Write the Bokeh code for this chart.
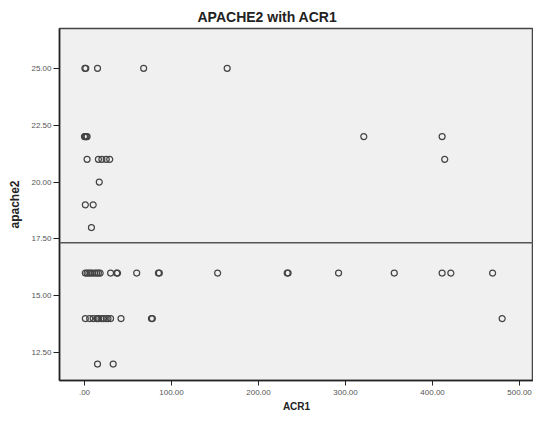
from bokeh.plotting import figure
from bokeh.models import FixedTicker, Span, ColumnDataSource
from bokeh.embed import file_html
from bokeh.resources import INLINE

# Data (ACR1 vs apache2)
acr1_25 = [0.5, 1.5, 15, 68, 164]
acr1_22 = [0, 1, 2, 3, 321, 411]
acr1_21 = [3, 16, 20, 25, 29, 414]
acr1_20 = [17]
acr1_19 = [1, 10]
acr1_18 = [8]
acr1_16 = [1, 3, 5, 7, 9, 12, 14, 16, 18, 30, 37, 38, 60, 85, 86, 153, 233, 234, 292, 356, 411, 421, 469]
acr1_14 = [1, 6, 10, 14, 15, 16, 19, 22, 25, 27, 30, 42, 77, 78, 480]
acr1_12 = [15, 33]
groups = [(25, acr1_25), (22, acr1_22), (21, acr1_21), (20, acr1_20), (19, acr1_19),
          (18, acr1_18), (16, acr1_16), (14, acr1_14), (12, acr1_12)]
ref_line = 17.33

x_ticks = [0, 100, 200, 300, 400, 500]
x_tick_labels = [".00", "100.00", "200.00", "300.00", "400.00", "500.00"]
y_ticks = [12.5, 15, 17.5, 20, 22.5, 25]
y_tick_labels = ["12.50", "15.00", "17.50", "20.00", "22.50", "25.00"]

xs, ys = [], []
for yv, xl in groups:
    for xv in xl:
        xs.append(xv)
        ys.append(yv)
src = ColumnDataSource(dict(x=xs, y=ys))

p = figure(width=533, height=414, output_backend="svg", toolbar_location=None,
           x_range=(-28.7, 516), y_range=(11.28, 26.75),
           min_border_left=59, min_border_right=0, min_border_top=28, min_border_bottom=32,
           title="APACHE2 with  ACR1")
p.title.align = "left"
p.title.offset = 138
p.title.text_font = "Liberation Sans"
p.title.text_font_size = "14px"
p.title.text_font_style = "bold"
p.title.text_color = "#222222"
p.title.standoff = 7

p.background_fill_color = "#f0f0f0"
p.border_fill_color = "white"
p.outline_line_color = "#444444"
p.outline_line_width = 1.5
p.grid.visible = False

p.scatter("x", "y", source=src, marker="circle", size=6, fill_alpha=0,
          line_color="#444444", line_width=1.2)

p.add_layout(Span(location=ref_line, dimension="width", line_color="#555555", line_width=1.5))

for ax in (p.xaxis[0], p.yaxis[0]):
    ax.axis_line_color = "#222222"
    ax.axis_line_width = 1.5
    ax.major_tick_line_color = "#222222"
    ax.major_tick_in = 0
    ax.minor_tick_line_color = None
    ax.major_label_text_font = "Liberation Sans"
    ax.major_label_text_font_size = "8px"
    ax.major_label_text_color = "#555555"
    ax.axis_label_text_font = "Liberation Sans"
    ax.axis_label_text_font_style = "bold"
    ax.axis_label_text_color = "#222222"

p.xaxis.major_tick_out = 5
p.xaxis.major_label_standoff = 4
p.xaxis.axis_label_standoff = 3
p.xaxis.axis_label_text_font_size = "10px"
p.yaxis.major_tick_out = 6
p.yaxis.major_label_standoff = 2
p.yaxis.axis_label_standoff = 6
p.yaxis.axis_label_text_font_size = "12px"

p.xaxis.ticker = FixedTicker(ticks=x_ticks)
p.xaxis.major_label_overrides = dict(zip(x_ticks, x_tick_labels))
p.yaxis.ticker = FixedTicker(ticks=y_ticks)
p.yaxis.major_label_overrides = dict(zip(y_ticks, y_tick_labels))
p.xaxis.axis_label = "ACR1"
p.yaxis.axis_label = "apache2"

open("out.html", "w").write(file_html(p, INLINE))
